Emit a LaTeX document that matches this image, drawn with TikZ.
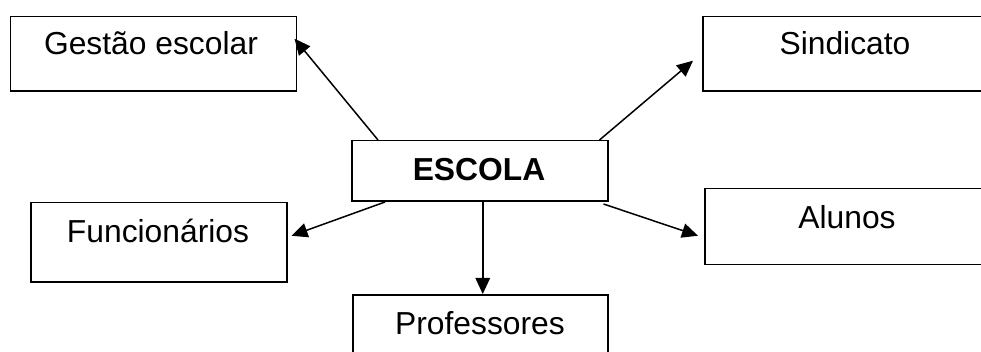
\documentclass[tikz,border=0pt]{standalone}
\usepackage{fontspec}
\setmainfont{Liberation Sans}
\usetikzlibrary{arrows.meta,calc}
\begin{document}
\begin{tikzpicture}[x=1pt,y=-1pt,
  box/.style={draw,line width=1.5pt,inner sep=0pt,anchor=north west},
  lbl/.style={anchor=base,inner sep=0pt,font=\fontsize{31.8}{36}\selectfont},
  conn/.style={line width=1.5pt,-{Triangle[length=16pt,width=14.5pt]}}]
\useasboundingbox (0,0) rectangle (981,352);
\clip (0,0) rectangle (981,352);
\node[box,minimum width=286pt,minimum height=74.5pt] (gestao) at (9.5,15.7) {};
\node[box,minimum width=290pt,minimum height=74.5pt] (sind) at (702,15.7) {};
\node[box,minimum width=256pt,minimum height=60.5pt] (escola) at (351,140) {};
\node[box,minimum width=256pt,minimum height=79pt] (func) at (30,202) {};
\node[box,minimum width=290pt,minimum height=76pt] (alunos) at (704,188) {};
\node[box,minimum width=255pt,minimum height=70pt] (prof) at (352,294) {};
\node[lbl] (tg) at (151,55) {Gestão escolar};
\node[lbl] (ts) at (845,55) {Sindicato};
\node[lbl,font=\fontsize{31.8}{36}\selectfont\bfseries] (te) at (479,181) {ESCOLA};
\node[lbl] (tf) at (158,242.7) {Funcionários};
\node[lbl] (ta) at (847,228.3) {Alunos};
\node[lbl] (tp) at (480,334) {Professores};
\draw[conn] ($(escola.north west)+(27,0)$) -- ($(gestao.east)+(-2.5,-15)$);
\draw[conn] ($(escola.north east)+(-9,0)$) -- ($(sind.west)+(-9,7)$);
\draw[conn] ($(escola.south west)+(34,0)$) -- ($(func.east)+(4,-6.5)$);
\draw[conn] ($(escola.south east)+(-5,2)$) -- ($(alunos.west)+(-6,9)$);
\draw[conn] ($(escola.south)+(3,0)$) -- ($(prof.north)+(2.5,0)$);
\end{tikzpicture}
\end{document}
